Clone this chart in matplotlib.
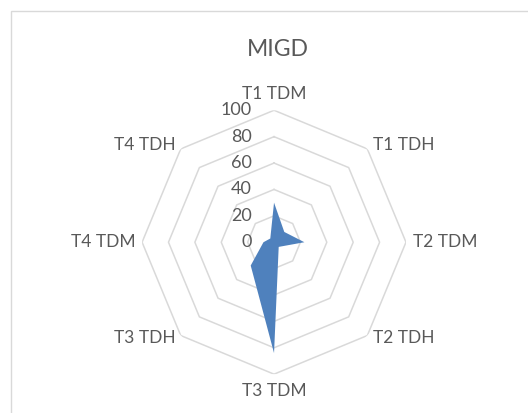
# Filled radar chart "MIGD" (Excel style, octagon grid)

import numpy as np
import matplotlib.pyplot as plt
from matplotlib.patches import Rectangle

categories = ['T1 TDM', 'T1 TDH', 'T2 TDM', 'T2 TDH',
              'T3 TDM', 'T3 TDH', 'T4 TDM', 'T4 TDH']
values = [30, 11, 23, 5, 84, 25, 8, 4]
ring_values = [20, 40, 60, 80, 100]
tick_values = [0, 20, 40, 60, 80, 100]

text_color = '#595959'
grid_color = '#d9d9d9'
fill_color = '#4f81bd'
font_name = 'Lato'

fig = plt.figure(figsize=(5.28, 4.13), dpi=100)

# light border of the chart area
fig.patches.append(Rectangle((11 / 528, -0.5), 2, 1.5 - 11 / 413,
                             transform=fig.transFigure, fill=False,
                             edgecolor=grid_color, linewidth=1))

ax = fig.add_axes([0.269, 0.094, 0.5, 0.639], projection='polar')
ax.set_theta_zero_location('N')
ax.set_theta_direction(-1)
ax.set_ylim(0, 100)
ax.grid(False)
ax.spines['polar'].set_visible(False)
ax.set_xticks([])
ax.set_yticks([])
ax.patch.set_alpha(0)

angles = np.linspace(0, 2 * np.pi, len(categories), endpoint=False)
closed = np.append(angles, angles[0])

# octagon rings
for r in ring_values:
    ax.plot(closed, [r] * len(closed), color=grid_color, linewidth=1.1, zorder=1)

# data
vals = values + values[:1]
ax.fill(closed, vals, color=fill_color, zorder=3, linewidth=0)

# radial tick labels
for v in tick_values:
    ax.annotate(str(v), xy=(0, v), xytext=(-16, 0), textcoords='offset points',
                ha='right', va='center', fontsize=13, color=text_color,
                fontname=font_name, annotation_clip=False)

# category labels
offsets = [(0, 6, 'center', 'bottom'), (4, 3, 'left', 'center'),
           (5, 0, 'left', 'center'), (4, -2, 'left', 'center'),
           (0, -6, 'center', 'top'), (-4, -2, 'right', 'center'),
           (-5, 0, 'right', 'center'), (-4, 3, 'right', 'center')]
for ang, lab, (dx, dy, ha, va) in zip(angles, categories, offsets):
    ax.annotate(lab, xy=(ang, 100), xytext=(dx, dy), textcoords='offset points',
                ha=ha, va=va, fontsize=12.5, color=text_color,
                fontname=font_name, annotation_clip=False)

fig.text(278 / 528, 1 - 49 / 413, 'MIGD', ha='center', va='center',
         fontsize=16.5, color=text_color, fontname=font_name)

fig.savefig('out.png', dpi=100)
